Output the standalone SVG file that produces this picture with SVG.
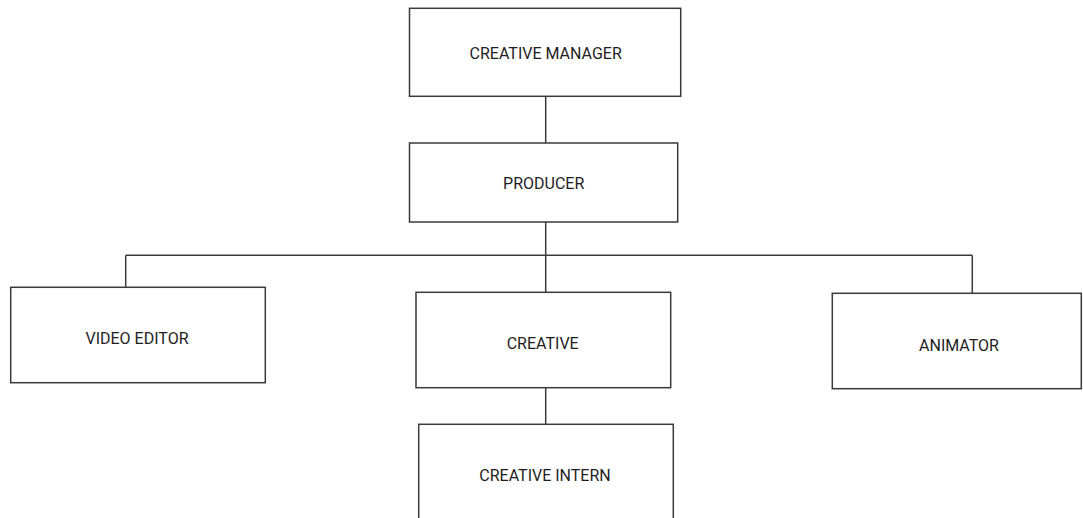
<svg xmlns="http://www.w3.org/2000/svg" width="1083" height="518" viewBox="0 0 1083 518">
<style>
rect{fill:#fff;stroke:#3a3a3a;stroke-width:1.5}
.c line{stroke:#3a3a3a;stroke-width:1.5}
text{font-family:Roboto,"Liberation Sans",sans-serif;font-size:16px;fill:#1e1e1e;text-anchor:middle}
</style>
<rect x="0" y="0" width="1083" height="518" style="stroke:none"/>
<g class="c" id="connectors">
<line x1="545.7" y1="96.3" x2="545.7" y2="143"/>
<line x1="545.7" y1="222" x2="545.7" y2="292.3"/>
<line x1="125.7" y1="255.3" x2="972.3" y2="255.3"/>
<line x1="125.7" y1="255.3" x2="125.7" y2="287.3"/>
<line x1="972.3" y1="255.3" x2="972.3" y2="293.3"/>
<line x1="545.7" y1="387.7" x2="545.7" y2="424.3"/>
</g>
<g id="creative-manager"><rect x="409.5" y="8.3" width="271.2" height="88"/><text x="545.7" y="59">CREATIVE MANAGER</text></g>
<g id="producer"><rect x="409.5" y="143" width="268.2" height="79"/><text x="543.7" y="188.5">PRODUCER</text></g>
<g id="video-editor"><rect x="10.7" y="287.3" width="254.6" height="95.4"/><text x="137" y="343.5">VIDEO EDITOR</text></g>
<g id="creative"><rect x="416" y="292.3" width="254.7" height="95.4"/><text x="542.7" y="349">CREATIVE</text></g>
<g id="animator"><rect x="832.3" y="293.3" width="249" height="95.4"/><text x="959" y="351">ANIMATOR</text></g>
<g id="creative-intern"><rect x="418.7" y="424.3" width="254.6" height="110"/><text x="545" y="480.7">CREATIVE INTERN</text></g>
</svg>
